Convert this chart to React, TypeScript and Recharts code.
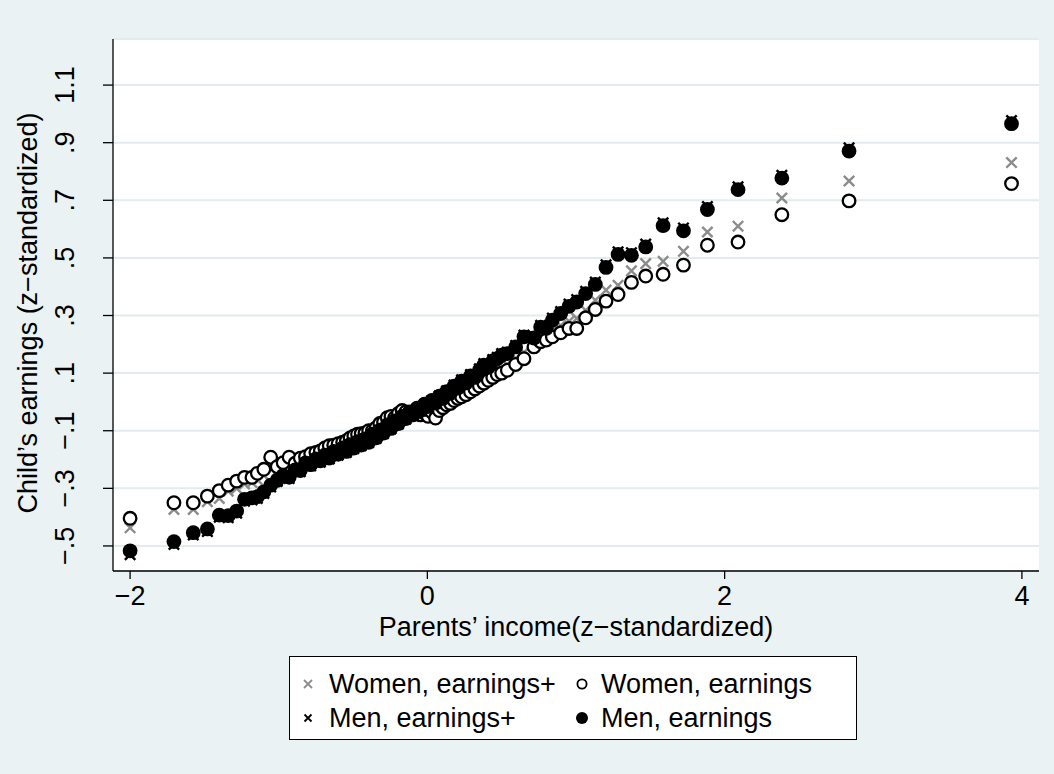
import { CartesianGrid, Scatter, ScatterChart, XAxis, YAxis } from "recharts";

// parents' income bins (z-standardized), shared by all four series
const parentIncome = [
  -2.0, -1.705, -1.575, -1.48, -1.4, -1.34, -1.283, -1.23, -1.18, -1.144,
  -1.1, -1.054, -1.01, -0.97, -0.93, -0.89, -0.855, -0.82, -0.785, -0.75,
  -0.72, -0.69, -0.66, -0.63, -0.6, -0.57, -0.545, -0.52, -0.495, -0.47,
  -0.445, -0.42, -0.395, -0.37, -0.345, -0.32, -0.295, -0.27, -0.245, -0.22,
  -0.195, -0.17, -0.145, -0.12, -0.095, -0.07, -0.045, -0.02, 0.005, 0.03,
  0.055, 0.08, 0.105, 0.13, 0.155, 0.18, 0.205, 0.23, 0.26, 0.29,
  0.32, 0.35, 0.38, 0.41, 0.44, 0.47, 0.5, 0.538, 0.594, 0.65,
  0.717, 0.762, 0.8, 0.841, 0.897, 0.953, 1.005, 1.065, 1.13, 1.202,
  1.283, 1.373, 1.469, 1.586, 1.723, 1.884, 2.09, 2.385, 2.837, 3.93,
];

const womenEarningsPlus = [
  -0.437, -0.373, -0.373, -0.346, -0.335, -0.31, -0.3, -0.285, -0.28, -0.27,
  -0.255, -0.225, -0.24, -0.23, -0.215, -0.225, -0.21, -0.205, -0.195, -0.19,
  -0.18, -0.172, -0.165, -0.16, -0.155, -0.148, -0.142, -0.135, -0.126, -0.12,
  -0.115, -0.11, -0.105, -0.102, -0.092, -0.08, -0.075, -0.062, -0.056, -0.058,
  -0.045, -0.035, -0.036, -0.03, -0.035, -0.025, -0.038, -0.032, -0.042, -0.03,
  -0.045, -0.022, -0.012, -0.002, 0.004, 0.014, 0.022, 0.028, 0.036, 0.046,
  0.056, 0.066, 0.078, 0.088, 0.098, 0.108, 0.115, 0.13, 0.152, 0.172,
  0.205, 0.225, 0.235, 0.25, 0.265, 0.28, 0.29, 0.318, 0.353, 0.388,
  0.405, 0.455, 0.48, 0.488, 0.523, 0.59, 0.61, 0.708, 0.767, 0.831,
];

const womenEarnings = [
  -0.404, -0.35, -0.35, -0.327, -0.308, -0.289, -0.275, -0.262, -0.262, -0.248,
  -0.234, -0.192, -0.225, -0.211, -0.192, -0.213, -0.195, -0.19, -0.18, -0.175,
  -0.17, -0.16, -0.152, -0.15, -0.145, -0.14, -0.135, -0.125, -0.118, -0.112,
  -0.11, -0.108, -0.1, -0.1, -0.09, -0.075, -0.07, -0.055, -0.05, -0.055,
  -0.04, -0.03, -0.035, -0.035, -0.04, -0.03, -0.045, -0.038, -0.05, -0.035,
  -0.056, -0.03, -0.02, -0.01, -0.005, 0.005, 0.012, 0.018, 0.025, 0.035,
  0.045, 0.055, 0.065, 0.075, 0.085, 0.095, 0.1, 0.11, 0.13, 0.15,
  0.191, 0.209, 0.215, 0.226, 0.24, 0.255, 0.255, 0.292, 0.321, 0.35,
  0.373, 0.415, 0.437, 0.443, 0.475, 0.544, 0.555, 0.65, 0.698, 0.758,
];

const menEarningsPlus = [
  -0.53, -0.495, -0.462, -0.45, -0.4, -0.402, -0.386, -0.345, -0.34, -0.335,
  -0.318, -0.295, -0.276, -0.259, -0.266, -0.24, -0.242, -0.216, -0.222, -0.202,
  -0.209, -0.188, -0.198, -0.175, -0.185, -0.163, -0.175, -0.15, -0.162, -0.14,
  -0.152, -0.13, -0.142, -0.114, -0.127, -0.1, -0.11, -0.082, -0.094, -0.068,
  -0.077, -0.052, -0.06, -0.038, -0.047, -0.024, -0.032, -0.01, -0.018, 0.004,
  -0.005, 0.021, 0.014, 0.039, 0.033, 0.059, 0.052, 0.077, 0.071, 0.095,
  0.09, 0.115, 0.133, 0.125, 0.147, 0.155, 0.168, 0.173, 0.196, 0.232,
  0.228, 0.266, 0.262, 0.291, 0.314, 0.34, 0.355, 0.384, 0.416, 0.476,
  0.521, 0.518, 0.548, 0.622, 0.604, 0.678, 0.747, 0.787, 0.882, 0.977,
];

const menEarnings = [
  -0.517, -0.485, -0.454, -0.441, -0.393, -0.395, -0.379, -0.338, -0.333, -0.329,
  -0.312, -0.289, -0.272, -0.255, -0.262, -0.236, -0.238, -0.212, -0.218, -0.198,
  -0.205, -0.185, -0.195, -0.172, -0.182, -0.16, -0.172, -0.148, -0.16, -0.138,
  -0.15, -0.128, -0.14, -0.112, -0.125, -0.098, -0.108, -0.08, -0.092, -0.066,
  -0.075, -0.05, -0.058, -0.036, -0.045, -0.022, -0.03, -0.008, -0.016, 0.005,
  -0.004, 0.02, 0.012, 0.036, 0.03, 0.055, 0.048, 0.072, 0.066, 0.09,
  0.085, 0.11, 0.128, 0.12, 0.142, 0.15, 0.162, 0.168, 0.191, 0.226,
  0.222, 0.26, 0.255, 0.284, 0.307, 0.332, 0.347, 0.376, 0.408, 0.467,
  0.512, 0.509, 0.538, 0.612, 0.594, 0.668, 0.737, 0.777, 0.871, 0.966,
];

const xTicks = [-2, 0, 2, 4];
const xTickLabels = ["\u22122", "0", "2", "4"];
const yTicks = [-0.5, -0.3, -0.1, 0.1, 0.3, 0.5, 0.7, 0.9, 1.1];
const yTickLabels = ["\u2212.5", "\u2212.3", "\u2212.1", ".1", ".3", ".5", ".7", ".9", "1.1"];

const X_TITLE = "Parents\u2019 income(z\u2212standardized)";
const Y_TITLE = "Child\u2019s earnings (z\u2212standardized)";
const legendLabels = ["Women, earnings+", "Women, earnings", "Men, earnings+", "Men, earnings"];

const BG = "rgb(234,242,243)";
const GRID = "rgb(226,235,238)";
const GRAY = "#8c8c8c";
const FONT = '"Liberation Sans", Arial, Helvetica, sans-serif';
const FS = 27;

const toPoints = (ys: number[]) => parentIncome.map((x, i) => ({ x, y: ys[i] }));

const cross = (color: string, s: number) => (p: any) => (
  <path
    d={`M${p.cx - s},${p.cy - s}L${p.cx + s},${p.cy + s}M${p.cx - s},${p.cy + s}L${p.cx + s},${p.cy - s}`}
    stroke={color}
    strokeWidth={2.4}
    fill="none"
  />
);
const hollow = (p: any) => <circle cx={p.cx} cy={p.cy} r={6.3} fill="#fff" stroke="#000" strokeWidth={2.3} />;
const filled = (p: any) => <circle cx={p.cx} cy={p.cy} r={7.4} fill="#000" />;

function YTick({ x, y, payload }: any) {
  const i = yTicks.indexOf(payload.value);
  return (
    <text transform={`translate(${x - 27},${y}) rotate(-90)`} textAnchor="middle" fontSize={FS} fill="#000" fontFamily={FONT}>
      {i >= 0 ? yTickLabels[i] : payload.value}
    </text>
  );
}

function XTick({ x, y, payload }: any) {
  const i = xTicks.indexOf(payload.value);
  return (
    <text x={x} y={y + 24} textAnchor="middle" fontSize={FS} fill="#000" fontFamily={FONT}>
      {i >= 0 ? xTickLabels[i] : payload.value}
    </text>
  );
}

function LegendMarker({ kind }: { kind: number }) {
  return (
    <svg width={16} height={16} style={{ position: "absolute", left: -8, top: -8 }}>
      {kind === 0 && <path d="M4,4L12,12M4,12L12,4" stroke={GRAY} strokeWidth={1.8} />}
      {kind === 1 && <circle cx={8} cy={8} r={4.6} fill="#fff" stroke="#000" strokeWidth={1.8} />}
      {kind === 2 && <path d="M4.5,4.5L11.5,11.5M4.5,11.5L11.5,4.5" stroke="#000" strokeWidth={1.8} />}
      {kind === 3 && <circle cx={8} cy={8} r={6} fill="#000" />}
    </svg>
  );
}

export default function App() {
  const legendSpots = [
    { mx: 18, tx: 39, cy: 27 },
    { mx: 292, tx: 311, cy: 27 },
    { mx: 18, tx: 39, cy: 61 },
    { mx: 292, tx: 311, cy: 61 },
  ];
  return (
    <div style={{ position: "absolute", left: 0, top: 0, width: 1054, height: 774, background: BG, fontFamily: FONT }}>
      <ScatterChart width={1054} height={774} margin={{ top: 39, right: 15, bottom: 143, left: 13 }}>
        <CartesianGrid vertical={false} stroke={GRID} strokeWidth={2} fill="#fff" />
        <XAxis
          type="number"
          dataKey="x"
          domain={[-2.115, 4.115]}
          ticks={xTicks}
          allowDataOverflow
          height={60}
          tickSize={8}
          tick={<XTick />}
          axisLine={{ stroke: "#000", strokeWidth: 1.3 }}
          tickLine={{ stroke: "#000", strokeWidth: 1.3 }}
        />
        <YAxis
          type="number"
          dataKey="y"
          domain={[-0.587, 1.26]}
          ticks={yTicks}
          allowDataOverflow
          width={100}
          tickSize={10}
          tick={<YTick />}
          axisLine={{ stroke: "#000", strokeWidth: 1.3 }}
          tickLine={{ stroke: "#000", strokeWidth: 1.3 }}
        />
        <Scatter name={legendLabels[0]} data={toPoints(womenEarningsPlus)} shape={cross(GRAY, 5.2)} isAnimationActive={false} />
        <Scatter name={legendLabels[1]} data={toPoints(womenEarnings)} shape={hollow} isAnimationActive={false} />
        <Scatter name={legendLabels[2]} data={toPoints(menEarningsPlus)} shape={cross("#000", 5.2)} isAnimationActive={false} />
        <Scatter name={legendLabels[3]} data={toPoints(menEarnings)} shape={filled} isAnimationActive={false} />
      </ScatterChart>

      <svg width={1054} height={774} style={{ position: "absolute", left: 0, top: 0, pointerEvents: "none" }}>
        <text x={576} y={636} textAnchor="middle" fontSize={FS} fill="#000" fontFamily={FONT}>
          {X_TITLE}
        </text>
        <text transform="translate(37,313) rotate(-90)" textAnchor="middle" fontSize={FS} fill="#000" fontFamily={FONT}>
          {Y_TITLE}
        </text>
      </svg>

      <div
        style={{
          position: "absolute",
          left: 289,
          top: 656,
          width: 566,
          height: 82,
          border: "1px solid #000",
          background: "#fff",
        }}
      >
        {legendLabels.map((label, i) => (
          <div key={label}>
            <div style={{ position: "absolute", left: legendSpots[i].mx, top: legendSpots[i].cy }}>
              <LegendMarker kind={i} />
            </div>
            <div
              style={{
                position: "absolute",
                left: legendSpots[i].tx,
                top: legendSpots[i].cy - 15,
                fontSize: FS,
                lineHeight: "30px",
                whiteSpace: "nowrap",
                color: "#000",
              }}
            >
              {label}
            </div>
          </div>
        ))}
      </div>
    </div>
  );
}
